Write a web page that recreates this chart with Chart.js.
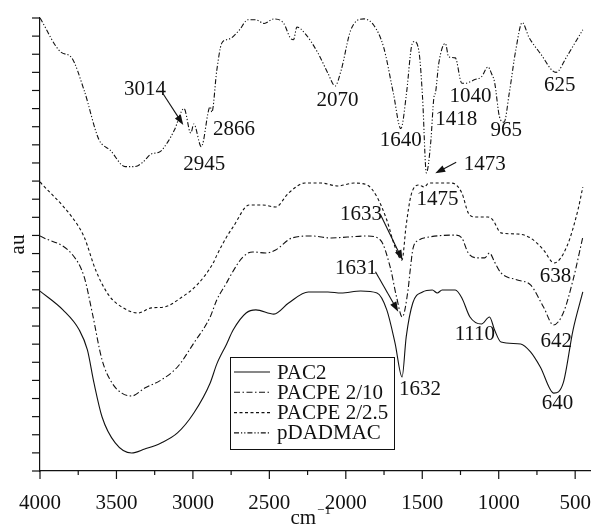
<!DOCTYPE html>
<html>
<head>
<meta charset="utf-8">
<script src="https://cdn.jsdelivr.net/npm/chart.js"></script>
<style>
  html, body { margin: 0; padding: 0; background: #fff; }
</style>
</head>
<body>
<canvas id="ftir" width="603" height="532"></canvas>
<script>
// FTIR spectra, [wavenumber cm-1, au (offset)]
const pac2 = [
  [4000,9.93],[3850,8.89],[3743,7.78],[3690,6.68],[3647,4.86],[3594,2.98],[3508,1.55],[3401,0.99],
  [3315,1.21],[3208,1.55],[3101,2.10],[2994,3.20],[2887,4.86],[2844,5.9],[2780,7.0],[2737,7.78],
  [2652,8.72],[2588,8.89],[2470,8.66],[2374,9.27],[2245,9.88],[2117,9.88],[2031,9.82],[1903,9.93],
  [1796,9.82],[1732,8.89],[1678,7.06],[1632,5.19],[1605,7.40],[1562,9.27],[1498,9.88],[1434,9.99],
  [1402,9.82],[1370,9.99],[1284,9.99],[1241,9.55],[1188,8.50],[1113,8.11],[1060,8.50],[1027,7.78],
  [985,7.12],[856,7.01],[792,6.57],[728,5.74],[640,4.30],[578,4.86],[514,7.78],[450,9.88]
];
const pacpe210 = [
  [4000,12.97],[3786,11.92],[3711,10.71],[3658,8.72],[3594,6.13],[3529,4.86],[3465,4.30],[3401,4.14],
  [3315,4.58],[3208,5.02],[3101,5.74],[2994,7.06],[2887,8.50],[2844,9.44],[2780,10.38],[2759,10.71],
  [2673,11.81],[2609,12.09],[2523,12.03],[2459,12.20],[2352,12.86],[2224,12.97],[2095,12.86],[1989,12.91],
  [1860,12.97],[1774,12.75],[1710,11.26],[1668,9.60],[1631,8.50],[1593,9.99],[1580,11.0],[1560,12.3],
  [1520,12.75],[1456,12.91],[1284,13.02],[1241,12.86],[1199,12.03],[1134,11.76],[1092,11.76],[1060,12.03],
  [1027,11.53],[985,10.93],[878,10.54],[792,10.27],[707,9.05],[642,8.06],[578,8.72],[514,10.54],[450,12.91]
];
const pacpe225 = [
  [4000,15.95],[3786,13.96],[3711,12.91],[3636,11.09],[3551,9.71],[3465,9.05],[3358,8.72],[3272,9.00],
  [3187,9.05],[3080,9.55],[2973,10.27],[2866,11.5],[2844,11.9],[2780,12.91],[2737,13.47],[2631,14.68],
  [2545,14.68],[2459,14.57],[2374,15.34],[2267,15.89],[2159,15.89],[2053,15.73],[1946,15.89],[1860,15.78],
  [1796,15.12],[1732,13.85],[1678,12.36],[1633,11.64],[1605,13.58],[1573,15.23],[1520,15.78],[1488,15.67],
  [1456,15.89],[1306,15.89],[1241,15.34],[1199,14.24],[1156,14.02],[1070,14.02],[1038,13.85],[985,13.14],
  [878,13.08],[792,12.86],[707,12.20],[638,11.48],[556,12.36],[482,14.40],[450,15.67]
];
const pdadmac = [
  [4000,25.0],[3861,23.1],[3797,22.85],[3711,21.0],[3615,18.3],[3540,17.7],[3443,16.8],[3379,16.8],
  [3326,17.05],[3272,17.5],[3219,17.6],[3165,18.15],[3122,18.8],[3058,20.0],[3014,18.65],[2994,19.15],
  [2945,17.9],[2887,20.1],[2876,19.8],[2844,22.1],[2812,23.6],[2780,23.8],[2748,23.9],[2695,24.35],
  [2641,24.9],[2588,24.9],[2534,24.7],[2470,24.95],[2406,24.7],[2363,23.9],[2342,23.8],[2320,24.5],
  [2267,24.15],[2181,23.05],[2117,21.95],[2070,21.25],[2031,22.1],[1967,24.35],[1881,24.95],[1817,24.6],
  [1753,23.4],[1689,20.85],[1640,18.9],[1603,20.85],[1571,23.4],[1552,23.7],[1520,23.05],[1498,20.6],
  [1473,16.45],[1445,18.1],[1424,20.6],[1413,20.9],[1392,22.5],[1349,23.6],[1327,22.85],[1284,22.8],
  [1241,21.4],[1220,21.4],[1156,21.6],[1113,21.75],[1070,22.3],[1048,21.95],[1027,21.45],[995,19.55],
  [965,19.25],[931,20.85],[888,23.25],[846,24.75],[803,23.95],[728,23.05],[625,22.0],[556,22.85],
  [503,23.6],[450,24.35]
];

const seriesNames = ['PAC2', 'PACPE 2/10', 'PACPE 2/2.5', 'pDADMAC'];
const xTicks = [4000, 3500, 3000, 2500, 2000, 1500, 1000, 500];
const xMinorTicks = [3750, 3250, 2750, 2250, 1750, 1250, 750];
const yTicks = [0,1,2,3,4,5,6,7,8,9,10,11,12,13,14,15,16,17,18,19,20,21,22,23,24,25];

// peak labels: text, anchor (wavenumber, au), optional arrow [x1,y1,x2,y2]
const peakNotes = [
  { text: '3014', x: 3313, y: 21.03, arrow: [3193, 20.79, 3063, 19.10] },
  { text: '2866', x: 2732, y: 18.82 },
  { text: '2945', x: 2925, y: 16.92 },
  { text: '2070', x: 2055, y: 20.45 },
  { text: '1640', x: 1641, y: 18.23 },
  { text: '1418', x: 1278, y: 19.40 },
  { text: '1040', x: 1185, y: 20.66 },
  { text: '965', x: 950, y: 18.79 },
  { text: '625', x: 601, y: 21.27 },
  { text: '1473', x: 1092, y: 16.92, arrow: [1278, 17.04, 1415, 16.43] },
  { text: '1475', x: 1400, y: 14.98 },
  { text: '1633', x: 1901, y: 14.13, arrow: [1772, 14.13, 1629, 11.64] },
  { text: '1631', x: 1933, y: 11.15, arrow: [1806, 11.0, 1657, 8.79] },
  { text: '1632', x: 1515, y: 4.50 },
  { text: '1110', x: 1156, y: 7.53 },
  { text: '638', x: 629, y: 10.73 },
  { text: '642', x: 623, y: 7.15 },
  { text: '640', x: 616, y: 3.73 }
];

const FONT = "'Liberation Serif', 'Times New Roman', serif";
const INK = '#111';
const dashes = [[], [6, 2.5, 1.5, 2.5], [3, 2.5], [5, 2, 1.2, 2, 1.2, 2]];
const allSeries = [pac2, pacpe210, pacpe225, pdadmac];

const toPoints = arr => arr.map(p => ({ x: p[0], y: p[1] }));

const decor = {
  id: 'decor',
  afterDraw(chart) {
    const { ctx, chartArea: a, scales: { x, y } } = chart;
    ctx.save();
    ctx.strokeStyle = INK; ctx.fillStyle = INK; ctx.lineWidth = 1.2;
    // tick marks, outside the axes
    xTicks.forEach(v => {
      const px = x.getPixelForValue(v);
      ctx.beginPath(); ctx.moveTo(px, a.bottom); ctx.lineTo(px, a.bottom + 8); ctx.stroke();
    });
    xMinorTicks.forEach(v => {
      const px = x.getPixelForValue(v);
      ctx.beginPath(); ctx.moveTo(px, a.bottom); ctx.lineTo(px, a.bottom + 4); ctx.stroke();
    });
    yTicks.forEach(v => {
      const py = y.getPixelForValue(v);
      ctx.beginPath(); ctx.moveTo(a.left - 8, py); ctx.lineTo(a.left, py); ctx.stroke();
    });

    // x axis title with superscript
    ctx.textBaseline = 'alphabetic'; ctx.textAlign = 'left';
    ctx.font = '21px ' + FONT;
    const cmW = ctx.measureText('cm').width;
    const tx = (a.left + a.right) / 2 - 12;
    ctx.fillText('cm', tx - cmW / 2, 524);
    ctx.font = '13px ' + FONT;
    ctx.fillText('\u22121', tx + cmW / 2 + 1, 514);

    // peak labels + arrows
    ctx.font = '21px ' + FONT;
    ctx.textAlign = 'center'; ctx.textBaseline = 'middle';
    peakNotes.forEach(n => {
      ctx.fillText(n.text, x.getPixelForValue(n.x), y.getPixelForValue(n.y));
      if (!n.arrow) return;
      const x1 = x.getPixelForValue(n.arrow[0]), y1 = y.getPixelForValue(n.arrow[1]);
      const x2 = x.getPixelForValue(n.arrow[2]), y2 = y.getPixelForValue(n.arrow[3]);
      const ang = Math.atan2(y2 - y1, x2 - x1);
      ctx.lineWidth = 1.1;
      ctx.beginPath(); ctx.moveTo(x1, y1); ctx.lineTo(x2 - 6 * Math.cos(ang), y2 - 6 * Math.sin(ang)); ctx.stroke();
      ctx.beginPath();
      ctx.moveTo(x2, y2);
      ctx.lineTo(x2 - 10 * Math.cos(ang) + 3.5 * Math.sin(ang), y2 - 10 * Math.sin(ang) - 3.5 * Math.cos(ang));
      ctx.lineTo(x2 - 10 * Math.cos(ang) - 3.5 * Math.sin(ang), y2 - 10 * Math.sin(ang) + 3.5 * Math.cos(ang));
      ctx.closePath(); ctx.fill();
    });

    // legend box inside the plot
    const lx = a.left + 190, ly = a.top + 339, lw = 164, lh = 92;
    ctx.fillStyle = '#fff';
    ctx.fillRect(lx, ly, lw, lh);
    ctx.strokeStyle = INK; ctx.fillStyle = INK; ctx.lineWidth = 1;
    ctx.strokeRect(lx + 0.5, ly + 0.5, lw, lh);
    ctx.textAlign = 'left';
    chart.data.datasets.forEach((ds, i) => {
      const ry = ly + 15 + i * 20.3;
      ctx.setLineDash(ds.borderDash);
      ctx.lineWidth = 1.1;
      ctx.beginPath(); ctx.moveTo(lx + 4, ry); ctx.lineTo(lx + 40, ry); ctx.stroke();
      ctx.setLineDash([]);
      ctx.fillText(ds.label, lx + 47, ry + 1);
    });
    ctx.restore();
  }
};

new Chart(document.getElementById('ftir'), {
  type: 'line',
  data: {
    datasets: allSeries.map((s, i) => ({
      label: seriesNames[i],
      data: toPoints(s),
      borderColor: INK,
      borderWidth: 1.1,
      borderDash: dashes[i],
      pointRadius: 0,
      fill: false,
      cubicInterpolationMode: 'monotone'
    }))
  },
  options: {
    responsive: false,
    devicePixelRatio: 1,
    animation: false,
    layout: { padding: { top: 18, right: 3, left: 0, bottom: 0 } },
    plugins: { legend: { display: false }, tooltip: { enabled: false } },
    scales: {
      x: {
        type: 'linear', reverse: true, min: 400, max: 4000,
        afterBuildTicks: s => { s.ticks = xTicks.map(v => ({ value: v })); },
        afterFit: s => { s.height = 61; },
        grid: { display: false },
        border: { display: true, color: INK, width: 1.2 },
        ticks: { color: INK, font: { family: FONT, size: 21 }, padding: 12, maxRotation: 0, autoSkip: false,
                 callback: v => String(v) }
      },
      y: {
        min: 0, max: 25,
        afterBuildTicks: s => { s.ticks = yTicks.map(v => ({ value: v })); },
        afterFit: s => { s.width = 40; },
        grid: { display: false },
        border: { display: true, color: INK, width: 1.2 },
        ticks: { display: false },
        title: { display: true, text: 'au', color: INK, font: { family: FONT, size: 21 }, padding: { top: 6, bottom: 0 } }
      }
    }
  },
  plugins: [decor]
});
</script>
</body>
</html>
